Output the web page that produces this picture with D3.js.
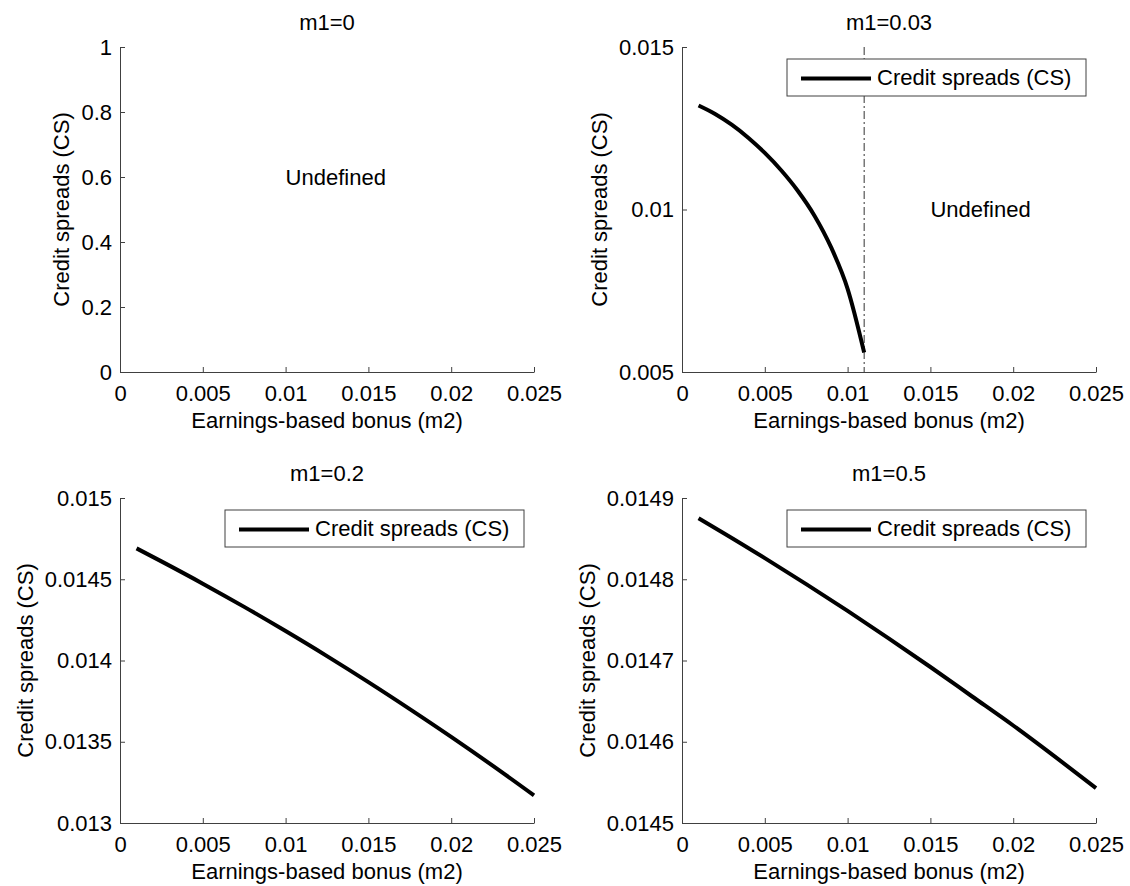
<!DOCTYPE html>
<html>
<head>
<meta charset="utf-8">
<script src="https://cdn.jsdelivr.net/npm/d3@7"></script>
<style>
  body { margin: 0; background: #fff; }
  svg { display: block; }
  text { font-family: Arial, "Liberation Sans", sans-serif; fill: #000; }
</style>
</head>
<body>
<svg width="1130" height="886"></svg>
<script>
// values
let m2Ticks = [0, 0.005, 0.01, 0.015, 0.02, 0.025];
let m2TickLabels = ['0', '0.005', '0.01', '0.015', '0.02', '0.025'];

let m2Short = [0.001, 0.002, 0.003, 0.004, 0.005, 0.006, 0.007, 0.008, 0.009, 0.01, 0.011];
let cs003 = [0.01320, 0.01294, 0.01261, 0.01221, 0.01174, 0.01120, 0.01057, 0.00981, 0.00884, 0.00756, 0.00560];

let m2Full = [0.001, 0.0025, 0.005, 0.0075, 0.01, 0.0125, 0.015, 0.0175, 0.02, 0.0225, 0.025];
let cs02 = [0.01469, 0.014610, 0.014473, 0.014330, 0.014181, 0.014027, 0.013867, 0.013701, 0.013530, 0.013353, 0.013170];
let cs05 = [0.014875, 0.014857, 0.014826, 0.014794, 0.014761, 0.014727, 0.014692, 0.014656, 0.014620, 0.014582, 0.014543];

let panels = [
  { title: 'm1=0', left: 120, top: 47, yDomain: [0, 1],
    yTicks: [0, 0.2, 0.4, 0.6, 0.8, 1], yLabels: ['0', '0.2', '0.4', '0.6', '0.8', '1'],
    xs: null, ys: null, undef: [0.01, 0.6], legend: false },
  { title: 'm1=0.03', left: 682, top: 47, yDomain: [0.005, 0.015],
    yTicks: [0.005, 0.01, 0.015], yLabels: ['0.005', '0.01', '0.015'],
    xs: m2Short, ys: cs003, undef: [0.015, 0.01], cut: 0.011, legend: true },
  { title: 'm1=0.2', left: 120, top: 498, yDomain: [0.013, 0.015],
    yTicks: [0.013, 0.0135, 0.014, 0.0145, 0.015], yLabels: ['0.013', '0.0135', '0.014', '0.0145', '0.015'],
    xs: m2Full, ys: cs02, legend: true },
  { title: 'm1=0.5', left: 682, top: 498, yDomain: [0.0145, 0.0149],
    yTicks: [0.0145, 0.0146, 0.0147, 0.0148, 0.0149], yLabels: ['0.0145', '0.0146', '0.0147', '0.0148', '0.0149'],
    xs: m2Full, ys: cs05, legend: true }
];

let W = 414, H = 325;
let axisColor = '#404040';
let svg = d3.select('svg');
svg.append('rect').attr('width', 1130).attr('height', 886).attr('fill', '#fff');

panels.forEach(function(p) {
  let g = svg.append('g').attr('transform', `translate(${p.left},${p.top})`);
  let x = d3.scaleLinear().domain([0, 0.025]).range([0, W]);
  let y = d3.scaleLinear().domain(p.yDomain).range([H, 0]);

  // dash-dot boundary of the defined region
  if (p.cut) {
    g.append('line')
      .attr('x1', x(p.cut)).attr('x2', x(p.cut))
      .attr('y1', 0).attr('y2', H)
      .attr('stroke', '#333').attr('stroke-width', 1)
      .attr('stroke-dasharray', '8,3,2,3');
  }

  let xAxis = d3.axisBottom(x).tickValues(m2Ticks)
    .tickFormat((d, i) => m2TickLabels[i])
    .tickSizeInner(-5).tickSizeOuter(0).tickPadding(13);
  let yAxis = d3.axisLeft(y).tickValues(p.yTicks)
    .tickFormat((d, i) => p.yLabels[i])
    .tickSizeInner(-5).tickSizeOuter(0).tickPadding(8);

  let gx = g.append('g').attr('transform', `translate(0,${H})`).call(xAxis);
  let gy = g.append('g').call(yAxis);
  [gx, gy].forEach(a => {
    a.selectAll('path, line').attr('stroke', axisColor);
    a.selectAll('text').attr('font-size', 22).attr('font-family', 'Arial, "Liberation Sans", sans-serif').attr('fill', '#000');
  });

  if (p.xs) {
    let pts = p.xs.map((v, i) => [v, p.ys[i]]);
    g.append('path')
      .datum(pts)
      .attr('fill', 'none')
      .attr('stroke', '#000')
      .attr('stroke-width', 4)
      .attr('stroke-linejoin', 'round')
      .attr('d', d3.line().x(d => x(d[0])).y(d => y(d[1])).curve(d3.curveMonotoneX));
  }

  if (p.undef) {
    g.append('text')
      .attr('x', x(p.undef[0])).attr('y', y(p.undef[1]))
      .attr('dy', '0.35em')
      .attr('font-size', 22)
      .text('Undefined');
  }

  if (p.legend) {
    let lw = 299, lh = 37;
    let lg = g.append('g').attr('transform', `translate(${W - 10 - lw},12)`);
    lg.append('rect').attr('width', lw).attr('height', lh)
      .attr('fill', '#fff').attr('stroke', axisColor).attr('stroke-width', 1);
    lg.append('line').attr('x1', 14).attr('x2', 84).attr('y1', lh / 2 + 1).attr('y2', lh / 2 + 1)
      .attr('stroke', '#000').attr('stroke-width', 4);
    lg.append('text').attr('x', 90).attr('y', lh / 2).attr('dy', '0.35em')
      .attr('font-size', 22).text('Credit spreads (CS)');
  }

  g.append('text')
    .attr('x', W / 2).attr('y', -17)
    .attr('text-anchor', 'middle')
    .attr('font-size', 22)
    .text(p.title);

  g.append('text')
    .attr('x', W / 2).attr('y', H + 56)
    .attr('text-anchor', 'middle')
    .attr('font-size', 22)
    .text('Earnings-based bonus (m2)');

  // y label sits left of the widest tick label, like matlab does
  let widest = d3.max(gy.selectAll('.tick text').nodes(), n => n.getComputedTextLength());
  g.append('text')
    .attr('transform', `translate(${-8 - widest - 12},${H / 2}) rotate(-90)`)
    .attr('text-anchor', 'middle')
    .attr('font-size', 22)
    .text('Credit spreads (CS)');
});
</script>
</body>
</html>
